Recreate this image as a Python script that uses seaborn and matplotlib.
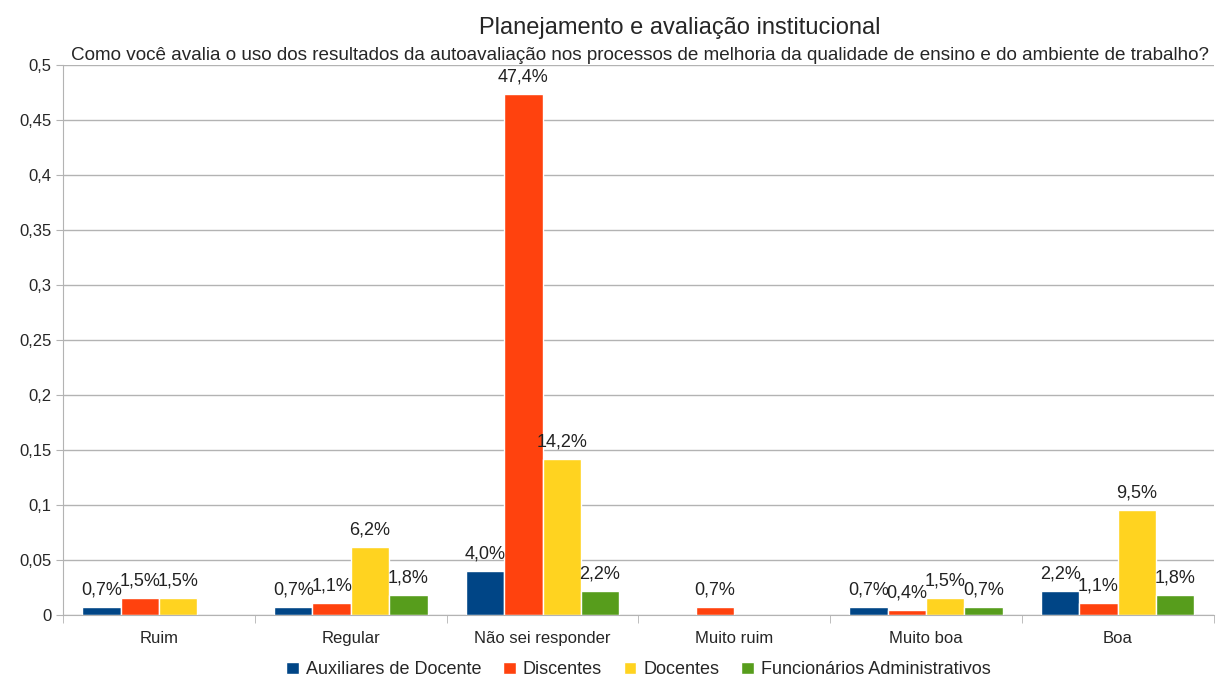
import numpy as np
import pandas as pd
import matplotlib
matplotlib.use("Agg")
import matplotlib.pyplot as plt
import seaborn as sns

categories = ["Ruim", "Regular", "Não sei responder", "Muito ruim", "Muito boa", "Boa"]
groups = ["Auxiliares de Docente", "Discentes", "Docentes", "Funcionários Administrativos"]

auxiliares = [0.007, 0.007, 0.040, np.nan, 0.007, 0.022]
discentes = [0.015, 0.011, 0.474, 0.007, 0.004, 0.011]
docentes = [0.015, 0.062, 0.142, np.nan, 0.015, 0.095]
funcionarios = [np.nan, 0.018, 0.022, np.nan, 0.007, 0.018]

colors = ["#004586", "#ff420e", "#ffd320", "#579d1c"]

rows = []
for grp, vals in zip(groups, [auxiliares, discentes, docentes, funcionarios]):
    for cat, v in zip(categories, vals):
        rows.append({"categoria": cat, "grupo": grp, "valor": v})
df = pd.DataFrame(rows)

sns.set_style("white")
plt.rcParams["font.family"] = ["Liberation Sans", "DejaVu Sans"]

fig = plt.figure(figsize=(12.16, 6.77), dpi=100)
ax = fig.add_axes([0.052, 0.092, 0.946, 0.812])

sns.barplot(data=df.dropna(), x="categoria", y="valor", hue="grupo",
            order=categories, hue_order=groups, palette=colors,
            width=0.8, saturation=1, errorbar=None, ax=ax)

# value labels above each bar
for cont in ax.containers:
    for bar in cont:
        h = bar.get_height()
        if np.isnan(h) or h == 0:
            continue
        txt = f"{h * 100:.1f}%".replace(".", ",")
        ax.annotate(txt, (bar.get_x() + bar.get_width() / 2, h),
                    xytext=(0, 6), textcoords="offset points",
                    ha="center", va="bottom", fontsize=13, color="#222222")

ax.set_ylim(0, 0.5)
ax.set_xlim(-0.5, len(categories) - 0.5)
yt = np.arange(0, 0.501, 0.05)
ax.set_yticks(yt)
ax.set_yticklabels([("%g" % t).replace(".", ",") for t in yt], fontsize=12)
ax.yaxis.grid(True, color="#b3b3b3", linewidth=1)
ax.set_axisbelow(True)
ax.tick_params(axis="y", length=5, color="#b3b3b3", left=True)
ax.tick_params(axis="x", labelsize=12, length=0, pad=12)

# separators between categories on the x axis
ax.set_xticks(np.arange(-0.5, len(categories) - 0.4, 1), minor=True)
ax.tick_params(axis="x", which="minor", length=6, color="#b3b3b3", bottom=True)

for side in ["top", "right"]:
    ax.spines[side].set_visible(False)
for side in ["left", "bottom"]:
    ax.spines[side].set_color("#b3b3b3")
ax.set_xlabel("")
ax.set_ylabel("")

fig.text(0.559, 0.958, "Planejamento e avaliação institucional",
         ha="center", va="center", fontsize=17)
fig.text(0.526, 0.918,
         "Como você avalia o uso dos resultados da autoavaliação nos processos de melhoria da qualidade de ensino e do ambiente de trabalho?",
         ha="center", va="center", fontsize=13.6)

ax.legend(loc="center", bbox_to_anchor=(0.5, -0.1), ncol=4,
          frameon=False, fontsize=13, handlelength=0.7, handleheight=0.7,
          handletextpad=0.4, columnspacing=1.2, borderpad=0.1)

fig.savefig("out.png", dpi=100)
